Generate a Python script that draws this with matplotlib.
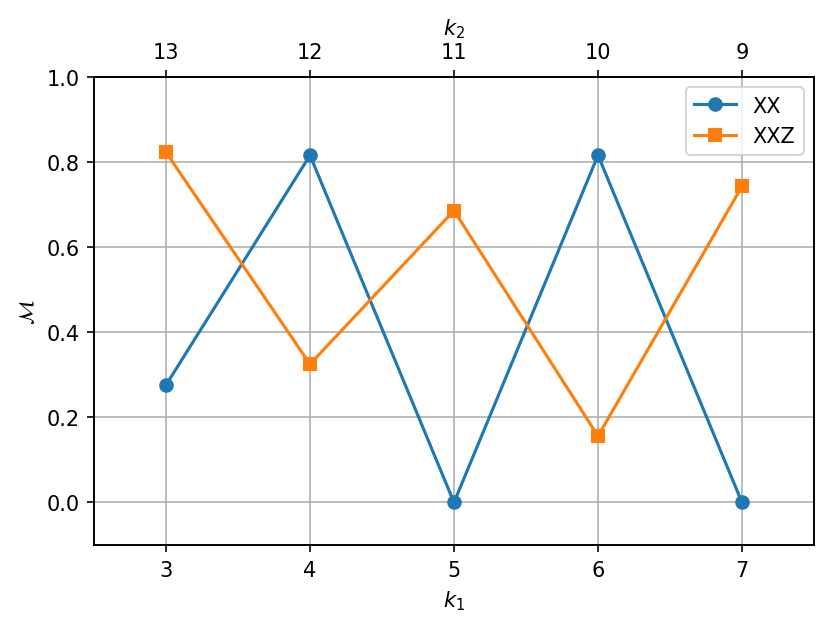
import matplotlib
matplotlib.use("Agg")
import matplotlib.pyplot as plt

k1 = [3, 4, 5, 6, 7]
k2_labels = ["13", "12", "11", "10", "9"]
xx = [0.276, 0.816, 0.0, 0.816, 0.0]
xxz = [0.823, 0.325, 0.686, 0.156, 0.743]

fig = plt.figure(figsize=(830/150, 626/150), dpi=150)
ax = fig.add_axes([94/830, 1-546/626, (814-94)/830, (546-78)/626])
ax.plot(k1, xx, marker='o', color='#1f77b4', label='XX')
ax.plot(k1, xxz, marker='s', color='#ff7f0e', label='XXZ')
ax.set_xlim(2.5, 7.5)
ax.set_ylim(-0.1, 1.0)
ax.set_xticks(k1)
ax.set_xlabel(r'$k_1$')
ax.set_ylabel(r'$\mathcal{M}$')
ax.grid(True)
ax.legend(loc='upper right')

ax2 = ax.twiny()
ax2.set_xlim(ax.get_xlim())
ax2.set_xticks(k1)
ax2.set_xticklabels(k2_labels)
ax2.set_xlabel(r'$k_2$')

fig.savefig('out.png', dpi=150)
